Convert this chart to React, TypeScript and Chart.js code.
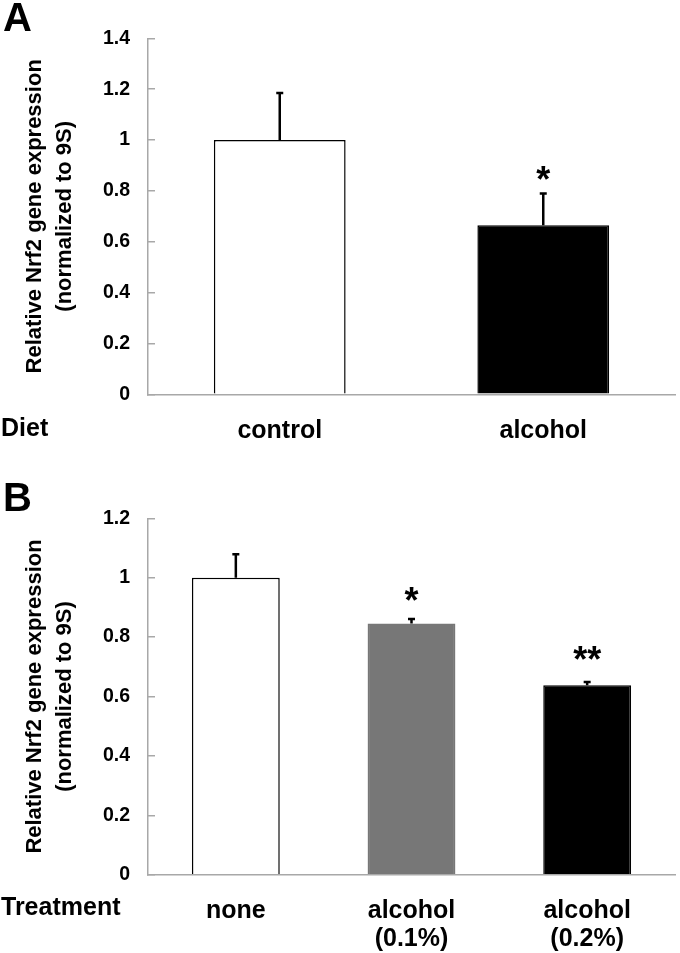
import React, { useEffect, useRef } from 'react';
import { Chart, registerables } from 'chart.js';

Chart.register(...registerables);
Chart.defaults.font.family = '"Liberation Sans", Arial, sans-serif';

// ---------- Panel A data ----------
const categoriesA: string[][] = [['control'], ['alcohol']];
const valuesA = [1.0, 0.665];
const errorsA = [0.185, 0.125];
const sigA = ['', '*'];
const colorsA = ['#ffffff', '#000000'];
const bordersA = ['#000000', '#000000'];
const ticksA = [0, 0.2, 0.4, 0.6, 0.8, 1, 1.2, 1.4];

// ---------- Panel B data ----------
const categoriesB: string[][] = [['none'], ['alcohol', '(0.1%)'], ['alcohol', '(0.2%)']];
const valuesB = [1.0, 0.846, 0.638];
const errorsB = [0.079, 0.015, 0.011];
const sigB = ['', '*', '**'];
const colorsB = ['#ffffff', '#777777', '#000000'];
const bordersB = ['#000000', '#777777', '#000000'];
const ticksB = [0, 0.2, 0.4, 0.6, 0.8, 1, 1.2];

const yTitle = ['Relative Nrf2 gene expression', '(normalized to 9S)'];
const FONT = '"Liberation Sans", Arial, sans-serif';
const AXIS_GRAY = '#a8a8a8';

type PanelProps = {
  height: number;
  letter: string;
  group: string;
  groupBaseline: number;
  letterBaseline: number;
  categories: string[][];
  values: number[];
  errors: number[];
  sig: string[];
  colors: string[];
  borders: string[];
  ticks: number[];
  max: number;
  areaTop: number;
  areaBottom: number;
  starGap: number[];
  labelPad: number;
};

function Panel(p: PanelProps) {
  const ref = useRef<HTMLCanvasElement | null>(null);
  useEffect(() => {
    if (!ref.current) return;
    const annot = {
      id: 'annot',
      afterDatasetsDraw(chart: any) {
        const { ctx } = chart;
        const xs = chart.scales.x;
        const ys = chart.scales.y;
        ctx.save();
        ctx.strokeStyle = '#000';
        ctx.lineWidth = 2.5;
        p.values.forEach((v, i) => {
          const cx = xs.getPixelForValue(i);
          const base = ys.getPixelForValue(v);
          const top = ys.getPixelForValue(v + p.errors[i]);
          ctx.beginPath();
          ctx.moveTo(cx, base);
          ctx.lineTo(cx, top);
          ctx.moveTo(cx - 3.5, top);
          ctx.lineTo(cx + 3.5, top);
          ctx.stroke();
          if (p.sig[i]) {
            ctx.fillStyle = '#000';
            ctx.font = `bold 36px ${FONT}`;
            ctx.textAlign = 'center';
            ctx.textBaseline = 'alphabetic';
            ctx.fillText(p.sig[i], cx, top + p.starGap[i]);
          }
        });
        ctx.fillStyle = '#000';
        ctx.font = `bold 40px ${FONT}`;
        ctx.textAlign = 'left';
        ctx.textBaseline = 'alphabetic';
        ctx.fillText(p.letter, 3, p.letterBaseline);
        ctx.font = `bold 25px ${FONT}`;
        ctx.fillText(p.group, 1, p.groupBaseline);
        ctx.restore();
      },
    };

    const chart = new Chart(ref.current, {
      type: 'bar',
      data: {
        labels: p.categories as any,
        datasets: [
          {
            data: p.values,
            backgroundColor: p.colors,
            borderColor: p.borders,
            borderWidth: 1.5,
            barPercentage: 1,
            categoryPercentage: 0.5,
          },
        ],
      },
      options: {
        animation: false,
        responsive: false,
        maintainAspectRatio: false,
        layout: { padding: { left: 0, right: 5, top: p.areaTop, bottom: 0 } },
        plugins: {
          legend: { display: false },
          tooltip: { enabled: false },
        },
        scales: {
          x: {
            grid: { display: false },
            border: { display: true, color: AXIS_GRAY, width: 1.5 },
            ticks: {
              color: '#000',
              font: { size: 25, weight: 'bold', lineHeight: 1.1 },
              padding: p.labelPad,
              maxRotation: 0,
              autoSkip: false,
            },
            afterFit: (s: any) => {
              s.height = p.height - p.areaBottom;
            },
          },
          y: {
            min: 0,
            max: p.max,
            afterBuildTicks: (s: any) => {
              s.ticks = p.ticks.map((v) => ({ value: v }));
            },
            grid: {
              drawOnChartArea: false,
              drawTicks: true,
              tickLength: -7,
              color: AXIS_GRAY,
              lineWidth: 1.5,
            },
            border: { display: true, color: AXIS_GRAY, width: 1.5 },
            ticks: {
              color: '#000',
              font: { size: 19.5, weight: 'bold' },
              padding: 25,
              callback: (v: any) => String(+(+v).toFixed(1)),
            },
            title: {
              display: true,
              text: yTitle,
              color: '#000',
              font: { size: 22, weight: 'bold', lineHeight: 1.36 },
              padding: { top: 20, bottom: 0 },
            },
            afterFit: (s: any) => {
              s.width = 148;
            },
          },
        },
      } as any,
      plugins: [annot],
    });
    return () => chart.destroy();
  }, []);
  return (
    <canvas
      ref={ref}
      width={680}
      height={p.height}
      style={{ display: 'block', width: 680, height: p.height }}
    />
  );
}

export default function App() {
  return (
    <div
      style={{
        position: 'absolute',
        left: 0,
        top: 0,
        width: 680,
        height: 953,
        background: '#fff',
        overflow: 'hidden',
      }}
    >
      <Panel
        height={470}
        letter="A"
        group="Diet"
        groupBaseline={436}
        letterBaseline={31}
        categories={categoriesA}
        values={valuesA}
        errors={errorsA}
        sig={sigA}
        colors={colorsA}
        borders={bordersA}
        ticks={ticksA}
        max={1.4}
        areaTop={38.3}
        areaBottom={394.3}
        starGap={[0, -1]}
        labelPad={15}
      />
      <Panel
        height={483}
        letter="B"
        group="Treatment"
        groupBaseline={445}
        letterBaseline={41}
        categories={categoriesB}
        values={valuesB}
        errors={errorsB}
        sig={sigB}
        colors={colorsB}
        borders={bordersB}
        ticks={ticksB}
        max={1.2}
        areaTop={48.3}
        areaBottom={404.7}
        starGap={[0, -6, -10]}
        labelPad={15}
      />
    </div>
  );
}
